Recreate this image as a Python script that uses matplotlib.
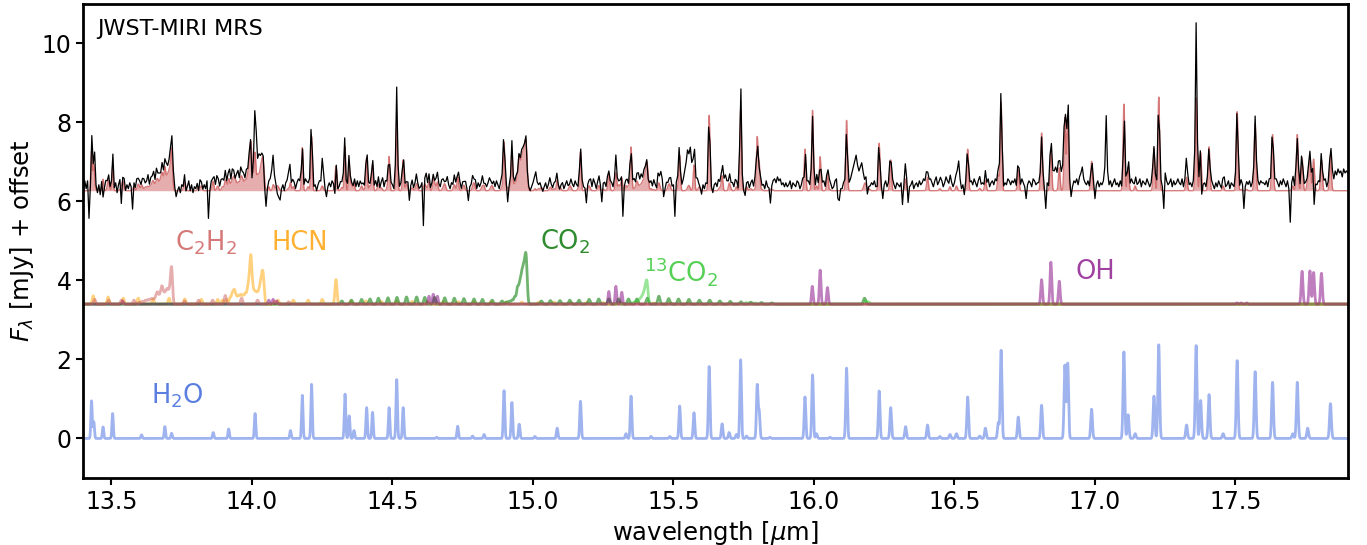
import numpy as np
import matplotlib.pyplot as plt

# line lists: centre [um], peak height [mJy]
h2o_wl = [13.429, 13.437, 13.470, 13.504, 13.607, 13.690, 13.714, 13.862, 13.917, 14.011,
          14.137, 14.179, 14.212, 14.331, 14.346, 14.363, 14.408, 14.429, 14.488, 14.515,
          14.538, 14.657, 14.732, 14.785, 14.826, 14.897, 14.925, 14.951, 15.007, 15.086,
          15.169, 15.331, 15.349, 15.420, 15.487, 15.522, 15.573, 15.627, 15.673, 15.698,
          15.724, 15.739, 15.760, 15.798, 15.805, 15.843, 15.968, 15.995, 16.009, 16.057,
          16.116, 16.232, 16.273, 16.326, 16.404, 16.448, 16.484, 16.507, 16.547, 16.590,
          16.610, 16.656, 16.666, 16.727, 16.810, 16.893, 16.903, 16.988, 17.103, 17.118,
          17.143, 17.210, 17.227, 17.326, 17.360, 17.376, 17.406, 17.456, 17.506, 17.570,
          17.632, 17.704, 17.720, 17.757, 17.838]
h2o_amp = [0.95, 0.42, 0.29, 0.63, 0.09, 0.30, 0.13, 0.15, 0.24, 0.63,
           0.20, 1.09, 1.37, 1.12, 0.57, 0.20, 0.78, 0.66, 0.78, 1.49,
           0.78, 0.03, 0.31, 0.06, 0.10, 1.21, 0.91, 0.36, 0.05, 0.26,
           0.94, 0.12, 1.07, 0.05, 0.05, 0.82, 0.65, 1.82, 0.37, 0.15,
           0.10, 1.99, 0.06, 1.34, 0.67, 0.03, 1.05, 1.61, 0.12, 0.03,
           1.78, 1.20, 0.78, 0.30, 0.34, 0.05, 0.10, 0.12, 1.05, 0.06,
           0.26, 0.40, 2.23, 0.54, 0.84, 1.85, 1.90, 0.74, 2.19, 0.60,
           0.12, 1.07, 2.37, 0.34, 2.35, 0.96, 1.11, 0.12, 1.97, 1.69,
           1.42, 0.12, 1.42, 0.26, 0.88]

c2h2_wl = [13.440, 13.490, 13.535, 13.580, 13.600, 13.610, 13.620, 13.628, 13.636, 13.643,
           13.650, 13.657, 13.663, 13.669, 13.675, 13.680, 13.686, 13.692, 13.698, 13.704,
           13.709, 13.714, 13.760, 13.810, 13.860, 13.905, 13.963, 14.020, 14.080, 14.130]
c2h2_amp = [0.12, 0.10, 0.10, 0.10, 0.05, 0.07, 0.09, 0.10, 0.10, 0.12,
            0.10, 0.14, 0.25, 0.15, 0.20, 0.35, 0.20, 0.22, 0.30, 0.22,
            0.25, 0.85, 0.08, 0.10, 0.10, 0.22, 0.15, 0.10, 0.08, 0.06]

hcn_wl = [13.435, 13.488, 13.542, 13.595, 13.648, 13.705, 13.761, 13.820, 13.878, 13.895,
          13.910, 13.922, 13.930, 13.937, 13.944, 13.952, 13.960, 13.968, 13.976, 13.984,
          13.990, 13.996, 14.003, 14.010, 14.016, 14.022, 14.028, 14.033, 14.038, 14.042,
          14.093, 14.147, 14.200, 14.250, 14.299, 14.352, 14.405, 14.460, 14.515, 14.570,
          14.625, 14.680, 14.735, 14.790, 14.850, 14.905, 14.960, 15.020, 15.075, 15.135,
          15.190, 15.250, 15.310, 15.370, 15.430, 15.490, 15.550]
hcn_amp = [0.21, 0.18, 0.15, 0.15, 0.13, 0.15, 0.13, 0.12, 0.12, 0.10,
           0.12, 0.15, 0.25, 0.32, 0.18, 0.20, 0.22, 0.20, 0.25, 0.30,
           0.45, 1.10, 0.35, 0.25, 0.20, 0.22, 0.30, 0.40, 0.55, 0.30,
           0.10, 0.10, 0.10, 0.12, 0.62, 0.08, 0.08, 0.07, 0.07, 0.07,
           0.07, 0.06, 0.06, 0.06, 0.06, 0.05, 0.05, 0.05, 0.05, 0.04,
           0.04, 0.04, 0.04, 0.03, 0.03, 0.03, 0.03]

co2_wl = [14.320, 14.354, 14.390, 14.420, 14.450, 14.484, 14.516, 14.550, 14.586, 14.615,
          14.650, 14.686, 14.720, 14.754, 14.790, 14.820, 14.855, 14.890,
          14.905, 14.915, 14.925, 14.935, 14.945, 14.953, 14.960, 14.966, 14.971, 14.976,
          15.030, 15.062, 15.096, 15.131, 15.164, 15.200, 15.234, 15.270, 15.305, 15.340,
          15.370, 15.407, 15.448, 15.483, 15.518, 15.555, 15.592, 15.629, 15.665, 15.702,
          15.740, 15.775, 15.813, 15.850, 16.180]
co2_amp = [0.08, 0.10, 0.12, 0.13, 0.15, 0.16, 0.17, 0.18, 0.18, 0.17,
           0.17, 0.16, 0.15, 0.14, 0.13, 0.12, 0.10, 0.08,
           0.05, 0.07, 0.10, 0.18, 0.40, 0.45, 0.60, 0.60, 0.55, 0.98,
           0.08, 0.09, 0.09, 0.10, 0.10, 0.12, 0.13, 0.13, 0.13, 0.13,
           0.13, 0.15, 0.20, 0.14, 0.13, 0.12, 0.10, 0.10, 0.08, 0.07,
           0.06, 0.05, 0.04, 0.03, 0.15]

co2_13_wl = [15.350, 15.360, 15.370, 15.380, 15.388, 15.395, 15.401, 15.406,
             15.760, 15.790, 16.185, 16.195]
co2_13_amp = [0.03, 0.05, 0.08, 0.12, 0.16, 0.22, 0.28, 0.45,
              0.04, 0.03, 0.08, 0.05]

oh_wl = [13.540, 14.060, 14.075, 14.088, 14.630, 14.645, 14.660, 15.270, 15.295, 15.316,
         15.994, 16.022, 16.048, 16.810, 16.843, 16.873, 17.505, 17.520, 17.540,
         17.737, 17.765, 17.778, 17.806]
oh_amp = [0.08, 0.10, 0.12, 0.08, 0.20, 0.25, 0.20, 0.32, 0.45, 0.30,
          0.45, 0.86, 0.42, 0.62, 1.06, 0.58, 0.03, 0.03, 0.03,
          0.83, 0.84, 0.80, 0.78]

# observed minus model, in units of 0.01 mJy, on a 0.005 um grid from 13.4 to 17.9
resid = [
    -5, 25, 5, 25, -70, -10, 45, 10, 60, 10, -5, 15, -10, 20, -45, 5, 25, 10, 15, 5,
    10, 35, 5, 20, -5, 15, 25, -45, 10, 20, 0, 15, 5, 20, 10, -50, 10, 5, 25, 15,
    15, 5, 20, 25, 10, 15, 30, 5, 20, 15, 25, 10, 30, 15, 20, 10, 25, 15, 20, 30,
    20, 25, 30, 40, 35, 10, -15, 0, 10, -5, 15, 5, 20, -10, 10, 25, 0, 15, -5, 10,
    5, 15, -10, 20, 10, 0, 15, 5, 25, -70, 0, 20, 10, 25, 15, 30, 20, 10, 25, 20,
    15, 25, 5, 20, 30, 10, 25, 15, 0, 20, 30, 10, 25, 15, 20, 5, 25, 10, 20, 5,
    -50, 30, 110, 100, 40, 50, 30, 15, 10, -20, -42, 5, 15, 30, 50, 75, 30, 10, -20, -25,
    -25, 5, 15, 0, 20, 25, 40, 50, 10, 20, 15, 5, 20, 30, 25, 20, 5, 10, 30, 20,
    10, 25, 55, 30, 10, 15, 0, 15, 25, 20, 70, 40, 5, -15, 10, 20, 10, 25, 15, -40,
    5, -10, 10, 20, 15, 35, 30, -5, 15, 35, 10, 5, 0, 15, 10, 25, 10, 20, 5, 15,
    10, 20, 30, 15, 5, 20, 15, 10, 25, 5, 20, 0, 15, 30, 10, 25, 15, 10, 5, 20,
    15, 5, 35, 90, 30, 10, 20, 15, 20, 10, 5, 15, -25, 10, 20, 5, 15, 25, 10, 5,
    10, 20, -95, 15, 35, 10, 20, 5, 15, 10, 5, 20, 25, 15, 10, 25, 20, 5, 15, 35,
    15, 5, 20, 10, 25, 15, 10, 25, 20, 5, 15, 10, 20, 5, -25, 10, 15, 25, 10, 20,
    5, 20, 10, 15, 25, 5, 15, 10, 20, 30, 15, 5, 20, 10, 25, 15, 5, 20, 30, 35,
    15, 10, -35, 5, 15, 25, 10, 5, 15, 0, 10, 5, 15, 10, 5, 10, -10, 5, 0, 10,
    20, 30, 45, 20, 10, 15, 0, -5, 10, 20, 5, 15, 25, 10, 5, 15, 20, 20, 5, -5,
    10, 20, 5, 15, 25, 10, 5, 20, 15, 10, 25, 15, 5, 10, 15, 20, 10, 5, -35, 10,
    15, 25, 10, 30, 20, 5, 15, 25, 10, -30, 15, 20, 10, 25, 5, 15, 20, 10, 25, 45,
    20, 10, 15, 5, -75, 10, 15, 20, 5, 25, -10, 15, 25, 10, 20, 30, 15, 25, 10, 20,
    10, 5, -10, 15, 20, 10, 25, 15, 5, 30, 20, 45, 30, -15, 5, 20, 10, 15, 25, 10,
    15, -65, 20, 25, 35, 0, 15, 30, 50, 70, 95, 80, 105, 70, 45, 55, 30, 30, 10, 0,
    -10, 15, 5, 20, 10, 15, 10, 5, -5, 15, 20, 10, 25, 15, 20, 35, 30, 40, 25, 15,
    25, 15, 20, 10, 25, 15, 5, 30, 65, 20, 0, -15, 10, 20, 5, 15, 25, 10, 30, 5,
    -5, -15, 20, 10, 15, 5, 25, 10, 5, -35, 10, 25, 30, 20, 35, 25, 30, 15, 20, 10,
    20, 10, 15, 25, 5, 20, 15, 10, 25, 20, 5, 15, 30, -25, 10, 20, 25, 15, 5, -15,
    20, 10, 30, 15, -15, 5, 20, 25, 10, 15, 20, 25, 15, 5, 10, 25, 30, -20, -25, 5,
    5, 20, 10, -25, 15, 20, 30, 45, 60, 75, 90, 65, 50, 60, 70, 40, 10, 20, -15, 5,
    10, 20, 15, 25, 10, 5, 15, 0, 10, -20, 15, 25, 10, 20, 30, 10, 25, 15, 5, 20,
    15, 10, 20, -35, 15, 40, 20, -30, 10, 15, 25, 5, 15, 20, 10, 25, 15, 20, 30, 25,
    35, 15, 25, 30, 20, 10, 25, 35, 15, 20, 30, 25, 10, 20, 35, 25, 15, 30, 20, 10,
    20, 30, 45, 75, 30, 5, 15, -10, 20, 10, 5, 20, 25, 15, 30, 20, 10, 25, 30, 15,
    20, 10, 25, 15, 30, 10, 20, 25, 15, 30, 20, 15, 25, 35, 25, 10, 20, 15, 30, 25,
    15, 25, 20, 30, 10, 20, 25, 15, 30, 20, 10, -20, 15, 25, 20, 10, 30, 25, 15, 20,
    20, 10, -10, 15, 5, -45, 20, 10, 25, 35, 45, 50, 60, 45, 40, 30, 45, 60, 50, 40,
    30, 65, 20, -15, 10, 25, 20, 30, 15, 35, 45, 60, 30, 20, 15, 25, 10, 0, 10, 20,
    -20, 15, 25, 10, 20, 15, 25, 60, 190, 50, 15, 25, 10, 20, 30, 15, 20, 10, 25, 5,
    -50, 0, 20, 10, 25, 15, 30, 20, 10, 25, 15, 20, 30, 10, 25, 20, 15, 30, 20, 10,
    20, 30, 5, 15, 10, 0, 5, 20, 10, -45, 45, 25, 15, 20, 30, 10, 25, 15, 20, 30,
    20, 15, 30, 10, 25, 50, 30, 15, 20, 10, 25, 40, 190, 60, 20, 10, -50, 15, 20, 10,
    20, 0, 10, 25, 15, 5, 20, 10, 25, 15, 5, 20, 30, 10, 15, 25, 5, 20, 15, 10,
    15, 5, 20, 10, 25, 15, -45, 10, 20, 15, 25, 10, 20, 15, 20, 30, 25, 15, 25, 20,
    20, 15, 25, 10, 30, 20, 20, 15, 25, 30, 20, 10, 25, 15, 30, 20, 10, 25, 5, -80,
    15, 25, 10, 20, -10, 15, 10, 20, 5, 15, 20, 10, 25, 15, 20, 5, -100, 10, 15, 25,
    10, 20, 15, 25, 30, 10, 20, 20, 35, 45, 30, 50, 40, 55, 45, 50, 35, 55, 45, 50,
    45,
]

OFF_TOP = 6.27
OFF_MID = 3.4


def line_spectrum(wl, centres, amps, res_power):
    # sum of gaussian line profiles, width set by resolving power
    flux = np.zeros_like(wl)
    for c, a in zip(centres, amps):
        sig = c / res_power / 2.355
        flux += a * np.exp(-0.5 * ((wl - c) / sig) ** 2)
    return flux


def all_species(wl):
    return {
        'h2o': line_spectrum(wl, h2o_wl, h2o_amp, 2400),
        'c2h2': line_spectrum(wl, c2h2_wl, c2h2_amp, 1700),
        'hcn': line_spectrum(wl, hcn_wl, hcn_amp, 1700),
        'co2': line_spectrum(wl, co2_wl, co2_amp, 1700),
        'co2_13': line_spectrum(wl, co2_13_wl, co2_13_amp, 1700),
        'oh': line_spectrum(wl, oh_wl, oh_amp, 2400),
    }


wl = np.linspace(13.4, 17.9, 9001)
spec = all_species(wl)
total = sum(spec.values())

wl_obs = np.linspace(13.4, 17.9, len(resid))
obs = OFF_TOP + sum(all_species(wl_obs).values()) + 0.01 * np.array(resid)

fig, ax = plt.subplots(figsize=(13.67, 5.45), dpi=100)
fig.subplots_adjust(left=0.061, right=0.986, top=0.993, bottom=0.123)

# top: model sum + observed
ax.fill_between(wl, OFF_TOP, OFF_TOP + total, color='indianred', alpha=0.5, lw=0)
ax.plot(wl, OFF_TOP + total, color='indianred', lw=1, alpha=0.8)
ax.plot(wl_obs, obs, color='k', lw=0.9)

# middle: individual molecules
ax.plot(wl, OFF_MID + spec['hcn'], color='orange', lw=2, alpha=0.5)
ax.plot(wl, OFF_MID + spec['co2'], color='forestgreen', lw=2, alpha=0.65)
ax.plot(wl, OFF_MID + spec['co2_13'], color='limegreen', lw=2, alpha=0.5)
ax.plot(wl, OFF_MID + spec['oh'], color='purple', lw=2, alpha=0.5)
ax.plot(wl, OFF_MID + spec['c2h2'], color='indianred', lw=2, alpha=0.5)

# bottom: water
ax.plot(wl, spec['h2o'], color='royalblue', lw=2, alpha=0.5)

lab = dict(fontsize=18.5, ha='center', va='center')
ax.text(13.836, 4.95, r'C$_2$H$_2$', color='#d57878', **lab)
ax.text(14.171, 4.95, 'HCN', color='#ffb030', **lab)
ax.text(15.113, 4.97, r'CO$_2$', color='#2e8b2e', **lab)
ax.text(15.527, 4.23, r'$^{13}$CO$_2$', color='#55d055', **lab)
ax.text(17.0, 4.21, 'OH', color='#a040a0', **lab)
ax.text(13.736, 1.07, r'H$_2$O', color='#5b7fe0', **lab)

ax.text(0.011, 0.967, 'JWST-MIRI MRS', transform=ax.transAxes, fontsize=16,
        ha='left', va='top')

ax.set_xlim(13.4, 17.9)
ax.set_ylim(-1, 11)
ax.set_xlabel(r'wavelength [$\mu$m]', fontsize=17.5)
ax.set_ylabel(r'$F_\lambda$ [mJy] + offset', fontsize=17.5)
ax.tick_params(labelsize=17, width=1.5, length=5)
for s in ax.spines.values():
    s.set_linewidth(2)

fig.savefig('out.png')
